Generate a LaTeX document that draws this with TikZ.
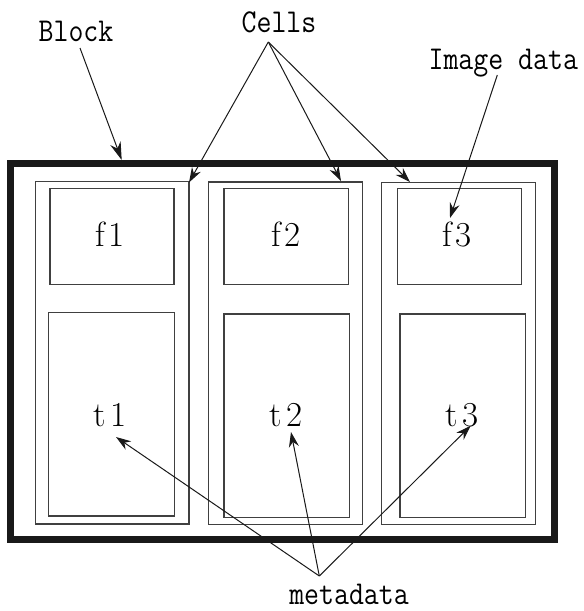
\documentclass[tikz,border=0pt]{standalone}
\usepackage{fontspec}
\usetikzlibrary{arrows.meta}
\begin{document}
\begin{tikzpicture}[x=1pt,y=-1pt,
  blockbox/.style={draw=black!90, line width=7pt, minimum width=544.7pt, minimum height=376pt, inner sep=0pt},
  framebox/.style={draw=black!75, line width=1.1pt, inner sep=0pt},
  callout/.style={font=\ttfamily\fontsize{29}{29}\selectfont, inner sep=0pt, anchor=base},
  fieldlabel/.style={font=\rmfamily\fontsize{35}{35}\selectfont, inner sep=0pt, anchor=base},
  pointer/.style={draw=black!90, line width=1pt, -{Stealth[length=15pt,width=10pt]}},
  bigpointer/.style={draw=black!90, line width=1pt, -{Stealth[length=18pt,width=11pt]}}]
\useasboundingbox (0,0) rectangle (584,611);

% outer block
\node[blockbox] (block) at (282.35,351.5) {};

% three cells, each holding a file box and a metadata box
\node[framebox, minimum width=153.3pt, minimum height=342.3pt] (c1) at (112.35,352.85) {};
\node[framebox, minimum width=154pt, minimum height=342.7pt] (c2) at (285.3,353.35) {};
\node[framebox, minimum width=153.6pt, minimum height=342.4pt] (c3) at (458.5,353.5) {};

\node[framebox, minimum width=124pt, minimum height=96pt] (f1box) at (112,236.7) {};
\node[framebox, minimum width=124.3pt, minimum height=96pt] (f2box) at (286.15,236.7) {};
\node[framebox, minimum width=124pt, minimum height=96pt] (f3box) at (459.7,236.7) {};

\node[framebox, minimum width=126pt, minimum height=203.3pt] (t1box) at (111.3,414.35) {};
\node[framebox, minimum width=125.5pt, minimum height=203.3pt] (t2box) at (286.75,415.65) {};
\node[framebox, minimum width=125.7pt, minimum height=203.7pt] (t3box) at (462.85,415.85) {};

% field labels
\node[fieldlabel] (f1) at (110,246.7) {f\kern4pt 1};
\node[fieldlabel] (f2) at (286,246.7) {f\kern4pt 2};
\node[fieldlabel] (f3) at (457,246.7) {f\kern4pt 3};
\node[fieldlabel] (t1) at (110,426.5) {t\kern4pt 1};
\node[fieldlabel] (t2) at (286,426.5) {t\kern4pt 2};
\node[fieldlabel] (t3) at (462,426.5) {t\kern4pt 3};

% callout texts
\node[callout] (blocklbl) at (76,41) {\scalebox{1}[1.15]{Block}};
\node[callout] (cellslbl) at (279,32.7) {\scalebox{1}[1.15]{Cells}};
\node[callout] (imglbl) at (503.3,69) {\scalebox{1}[1.15]{Image data}};
\node[callout] (metalbl) at (349,604) {\scalebox{1}[1.15]{metadata}};

% callout anchors and arrow ends
\coordinate (blockfoot) at (80,48);
\coordinate (blocktip) at (121.7,160);
\coordinate (cellsfoot) at (268.3,42);
\coordinate (c1tip) at (189,182.5);
\coordinate (c2tip) at (341,181);
\coordinate (c3tip) at (410,182);
\coordinate (imgfoot) at (497.3,75);
\coordinate (imgtip) at (450,218);
\coordinate (metafoot) at (319.3,576);
\coordinate (t1tip) at (116,437);
\coordinate (t2tip) at (291,432);
\coordinate (t3tip) at (470.7,425.7);

\draw[bigpointer] (blockfoot) -- (blocktip);
\draw[pointer] (cellsfoot) -- (c1tip);
\draw[pointer] (cellsfoot) -- (c2tip);
\draw[pointer] (cellsfoot) -- (c3tip);
\draw[pointer] (imgfoot) -- (imgtip);
\draw[pointer] (metafoot) -- (t1tip);
\draw[pointer] (metafoot) -- (t2tip);
\draw[pointer] (metafoot) -- (t3tip);
\end{tikzpicture}
\end{document}
